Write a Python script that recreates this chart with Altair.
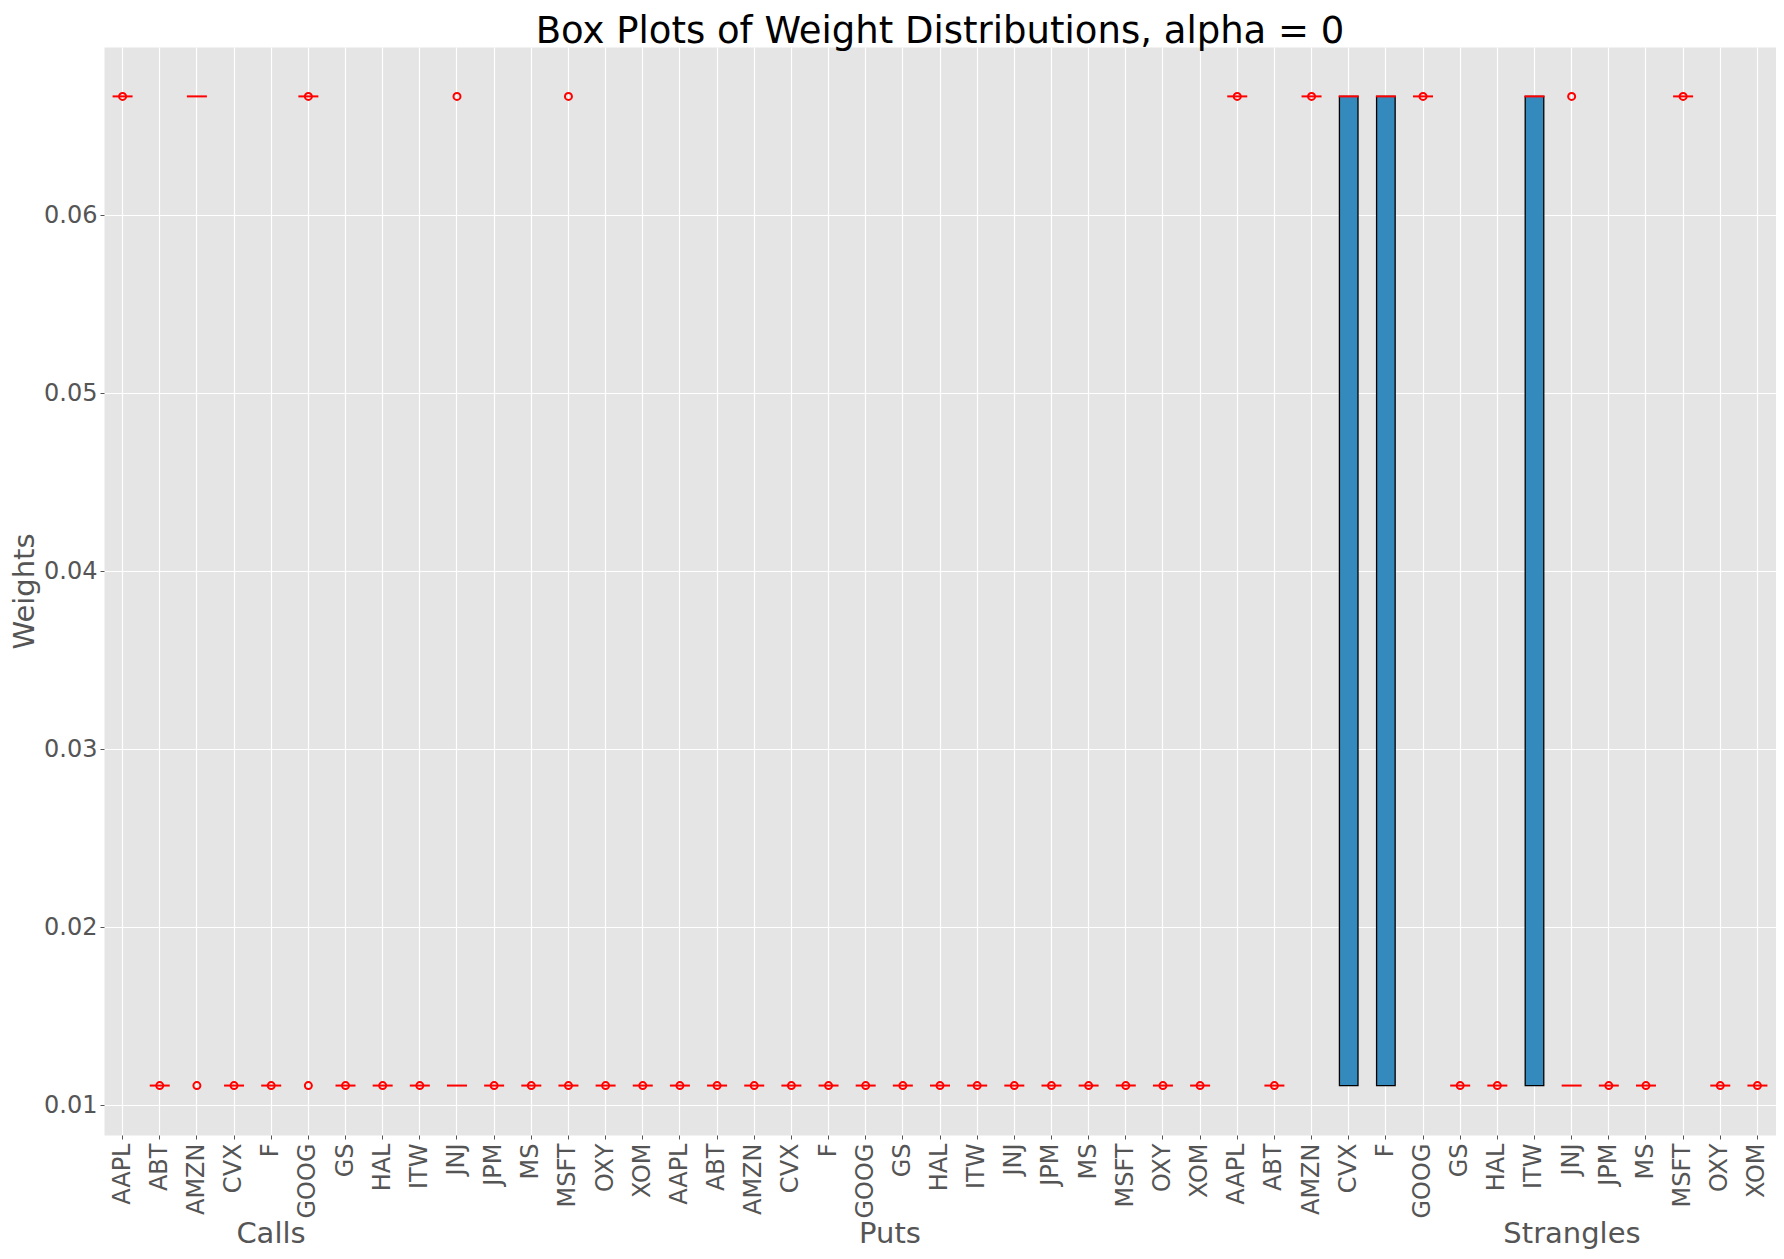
import altair as alt
import pandas as pd

# ---------------- data ----------------
tickers = ["AAPL", "ABT", "AMZN", "CVX", "F", "GOOG", "GS", "HAL", "ITW",
           "JNJ", "JPM", "MS", "MSFT", "OXY", "XOM"]
groups = ["Calls", "Puts", "Strangles"]

HI = 0.06667
LO = 0.01111

calls_median = [HI, LO, HI, LO, LO, HI, LO, LO, LO, LO, LO, LO, LO, LO, LO]
puts_median = [LO, LO, LO, LO, LO, LO, LO, LO, LO, LO, LO, LO, LO, LO, LO]
strangles_median = [HI, LO, HI, HI, HI, HI, LO, LO, HI, LO, LO, LO, HI, LO, LO]

box_group = ["Strangles", "Strangles", "Strangles"]
box_ticker = ["CVX", "F", "ITW"]
box_q1 = [LO, LO, LO]
box_q3 = [HI, HI, HI]

outlier_group = (
    ["Calls"] * 17 + ["Puts"] * 15 + ["Strangles"] * 12
)
outlier_ticker = [
    # Calls
    "AAPL", "ABT", "AMZN", "CVX", "F", "GOOG", "GOOG", "GS", "HAL", "ITW",
    "JNJ", "JPM", "MS", "MSFT", "MSFT", "OXY", "XOM",
    # Puts
    "AAPL", "ABT", "AMZN", "CVX", "F", "GOOG", "GS", "HAL", "ITW", "JNJ",
    "JPM", "MS", "MSFT", "OXY", "XOM",
    # Strangles
    "AAPL", "ABT", "AMZN", "GOOG", "GS", "HAL", "JNJ", "JPM", "MS", "MSFT",
    "OXY", "XOM",
]
outlier_value = [
    # Calls
    HI, LO, LO, LO, LO, HI, LO, LO, LO, LO,
    HI, LO, LO, HI, LO, LO, LO,
    # Puts
    LO, LO, LO, LO, LO, LO, LO, LO, LO, LO,
    LO, LO, LO, LO, LO,
    # Strangles
    HI, LO, HI, HI, LO, LO, HI, LO, LO, HI,
    LO, LO,
]

title_text = "Box Plots of Weight Distributions, alpha = 0"
y_title = "Weights"
y_ticks = [0.01, 0.02, 0.03, 0.04, 0.05, 0.06]

# ---------------- tables ----------------
keys = [f"{g}|{t}" for g in groups for t in tickers]
medians = calls_median + puts_median + strangles_median
med_df = pd.DataFrame({"key": keys, "median": medians})
box_df = pd.DataFrame({
    "key": [f"{g}|{t}" for g, t in zip(box_group, box_ticker)],
    "q1": box_q1, "q3": box_q3,
})
out_df = pd.DataFrame({
    "key": [f"{g}|{t}" for g, t in zip(outlier_group, outlier_ticker)],
    "value": outlier_value,
})

FONT = "DejaVu Sans"
W, H = 1672, 1088

x_enc = alt.X(
    "key:N",
    sort=keys,
    scale=alt.Scale(domain=keys, paddingInner=0, paddingOuter=0),
    axis=alt.Axis(
        title=None,
        labelExpr="split(datum.label, '|')[1]",
        labelAngle=270,
        labelFontSize=24,
        labelFont=FONT,
        labelColor="#555555",
        labelPadding=4,
        labelOverlap=False,
        labelBound=False,
        tickColor="#555555",
        tickSize=4,
        tickWidth=1,
        domain=False,
        grid=True,
        gridColor="white",
        gridWidth=1.2,
    ),
)

y_scale = alt.Scale(domain=[0.008333, 0.069444], nice=False, zero=False)
y_axis = alt.Axis(
    values=y_ticks,
    format=".2f",
    title=y_title,
    titleFont=FONT,
    titleFontSize=29,
    titleFontWeight="normal",
    titleColor="#555555",
    titleAngle=270,
    titleX=-80,
    titleY=H / 2,
    titleAlign="center",
    titleBaseline="middle",
    labelFontSize=24,
    labelFont=FONT,
    labelColor="#555555",
    labelPadding=3,
    tickColor="#555555",
    tickSize=4,
    tickWidth=1,
    domain=False,
    grid=True,
    gridColor="white",
    gridWidth=1.2,
)

boxes = alt.Chart(box_df).mark_bar(
    width={"band": 0.5}, fill="#348ABD", stroke="black", strokeWidth=1.3
).encode(
    x=x_enc,
    y=alt.Y("q1:Q", scale=y_scale, axis=y_axis),
    y2="q3:Q",
)

median_ticks = alt.Chart(med_df).mark_tick(
    color="#FF0000", thickness=2, size=20, opacity=1
).encode(
    x=x_enc,
    y=alt.Y("median:Q", scale=y_scale, axis=y_axis),
)

fliers = alt.Chart(out_df).mark_point(
    shape="circle", filled=False, color="#FF0000", size=49, strokeWidth=2, opacity=1
).encode(
    x=x_enc,
    y=alt.Y("value:Q", scale=y_scale, axis=y_axis),
)

title_layer = alt.Chart(pd.DataFrame({"t": [title_text]})).mark_text(
    font=FONT, fontSize=37, color="black", align="center", baseline="alphabetic",
).encode(text="t:N", x=alt.value(W / 2), y=alt.value(-4))

group_layers = []
for label, px in zip(groups, [167, 786, 1468]):
    group_layers.append(
        alt.Chart(pd.DataFrame({"t": [label]})).mark_text(
            font=FONT, fontSize=29, color="#555555", align="center",
            baseline="alphabetic",
        ).encode(text="t:N", x=alt.value(px), y=alt.value(H + 108))
    )

chart = alt.layer(boxes, median_ticks, fliers, title_layer, *group_layers).properties(
    width=W,
    height=H,
    padding={"left": 96, "top": 39, "right": 0, "bottom": 116},
    autosize=alt.AutoSizeParams(type="none"),
    background="white",
).configure_view(
    fill="#E5E5E5", stroke="transparent"
)

chart.save("out.html", embed_options={"renderer": "svg", "actions": False})
